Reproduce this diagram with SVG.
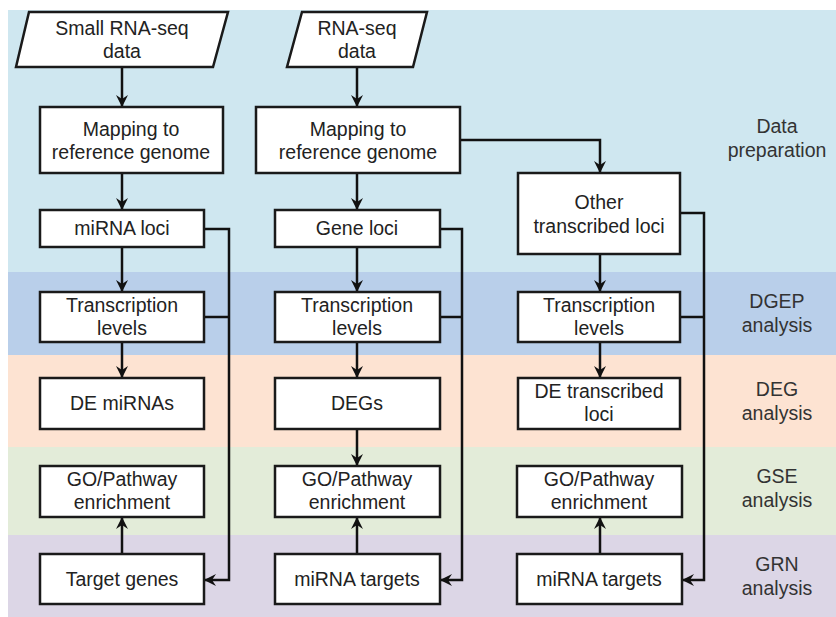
<svg xmlns="http://www.w3.org/2000/svg" width="836" height="617" viewBox="0 0 836 617">
<defs>
<style>
.box{fill:#fff;stroke:#1a1a1a;stroke-width:2.5}
.t{font-family:"Liberation Sans",Arial,sans-serif;font-size:19.5px;fill:#222;text-anchor:middle}
.s{font-family:"Liberation Sans",Arial,sans-serif;font-size:19.5px;fill:#333;text-anchor:middle}
.c{fill:none;stroke:#111;stroke-width:2.5}
</style>
<marker id="ah" markerUnits="userSpaceOnUse" markerWidth="14" markerHeight="14" viewBox="0 0 14 14" refX="13" refY="7" orient="auto">
<path d="M1,1 L13,7 L1,13 L5,7 Z" fill="#111"/>
</marker>
</defs>
<g id="bands">
<rect x="8" y="10" width="828" height="262" fill="#cfe7f0"/>
<rect x="8" y="272" width="828" height="83" fill="#b9cfea"/>
<rect x="8" y="355" width="828" height="92" fill="#fde3d2"/>
<rect x="8" y="447" width="828" height="88" fill="#e3ecd9"/>
<rect x="8" y="535" width="828" height="82" fill="#dcd6e6"/>
</g>
<g id="labels">
<text class="s" x="777" y="133">Data</text>
<text class="s" x="777" y="157">preparation</text>
<text class="s" x="777" y="308">DGEP</text>
<text class="s" x="777" y="332">analysis</text>
<text class="s" x="777" y="396">DEG</text>
<text class="s" x="777" y="420">analysis</text>
<text class="s" x="777" y="483">GSE</text>
<text class="s" x="777" y="507">analysis</text>
<text class="s" x="777" y="571">GRN</text>
<text class="s" x="777" y="595">analysis</text>
</g>
<g id="connectors">
<line class="c" x1="122" y1="67" x2="122" y2="107" marker-end="url(#ah)"/>
<line class="c" x1="122" y1="173" x2="122" y2="210" marker-end="url(#ah)"/>
<line class="c" x1="122" y1="247" x2="122" y2="292" marker-end="url(#ah)"/>
<line class="c" x1="122" y1="342" x2="122" y2="378" marker-end="url(#ah)"/>
<line class="c" x1="122" y1="554" x2="122" y2="517" marker-end="url(#ah)"/>
<polyline class="c" points="204,229 229,229 229,580 204,580" marker-end="url(#ah)"/>
<line class="c" x1="204" y1="317" x2="229" y2="317"/>
<line class="c" x1="357" y1="67" x2="357" y2="107" marker-end="url(#ah)"/>
<line class="c" x1="357" y1="173" x2="357" y2="210" marker-end="url(#ah)"/>
<line class="c" x1="357" y1="247" x2="357" y2="292" marker-end="url(#ah)"/>
<line class="c" x1="357" y1="342" x2="357" y2="378" marker-end="url(#ah)"/>
<line class="c" x1="357" y1="429" x2="357" y2="466" marker-end="url(#ah)"/>
<line class="c" x1="357" y1="554" x2="357" y2="517" marker-end="url(#ah)"/>
<polyline class="c" points="460,140 600,140 600,173" marker-end="url(#ah)"/>
<polyline class="c" points="440,229 462,229 462,580 440,580" marker-end="url(#ah)"/>
<line class="c" x1="440" y1="317" x2="462" y2="317"/>
<line class="c" x1="600" y1="254" x2="600" y2="292" marker-end="url(#ah)"/>
<line class="c" x1="600" y1="342" x2="600" y2="378" marker-end="url(#ah)"/>
<line class="c" x1="600" y1="554" x2="600" y2="517" marker-end="url(#ah)"/>
<polyline class="c" points="680,213 704,213 704,580 682,580" marker-end="url(#ah)"/>
<line class="c" x1="680" y1="317" x2="704" y2="317"/>
</g>
<g id="n-small-rnaseq">
<polygon class="box" points="29,12 228,12 213,67 16,67"/>
<text class="t" x="122" y="35">Small RNA-seq</text>
<text class="t" x="122" y="58">data</text>
</g>
<g id="n-map1">
<rect class="box" x="40" y="107" width="183" height="66"/>
<text class="t" x="131" y="136">Mapping to</text>
<text class="t" x="131" y="159">reference genome</text>
</g>
<g id="n-mirna-loci">
<rect class="box" x="40" y="210" width="164" height="37"/>
<text class="t" x="122" y="235">miRNA loci</text>
</g>
<g id="n-tl1">
<rect class="box" x="40" y="292" width="164" height="50"/>
<text class="t" x="122" y="312">Transcription</text>
<text class="t" x="122" y="335">levels</text>
</g>
<g id="n-de-mirnas">
<rect class="box" x="40" y="378" width="164" height="51"/>
<text class="t" x="122" y="410">DE miRNAs</text>
</g>
<g id="n-go1">
<rect class="box" x="40" y="466" width="164" height="51"/>
<text class="t" x="122" y="486">GO/Pathway</text>
<text class="t" x="122" y="509">enrichment</text>
</g>
<g id="n-target-genes">
<rect class="box" x="40" y="554" width="164" height="50"/>
<text class="t" x="122" y="586">Target genes</text>
</g>
<g id="n-rnaseq">
<polygon class="box" points="302,12 427,12 413,67 287,67"/>
<text class="t" x="357" y="35">RNA-seq</text>
<text class="t" x="357" y="58">data</text>
</g>
<g id="n-map2">
<rect class="box" x="256" y="107" width="204" height="66"/>
<text class="t" x="358" y="136">Mapping to</text>
<text class="t" x="358" y="159">reference genome</text>
</g>
<g id="n-gene-loci">
<rect class="box" x="275" y="210" width="165" height="37"/>
<text class="t" x="357" y="235">Gene loci</text>
</g>
<g id="n-tl2">
<rect class="box" x="275" y="292" width="165" height="50"/>
<text class="t" x="357" y="312">Transcription</text>
<text class="t" x="357" y="335">levels</text>
</g>
<g id="n-degs">
<rect class="box" x="275" y="378" width="165" height="51"/>
<text class="t" x="357" y="410">DEGs</text>
</g>
<g id="n-go2">
<rect class="box" x="275" y="466" width="165" height="51"/>
<text class="t" x="357" y="486">GO/Pathway</text>
<text class="t" x="357" y="509">enrichment</text>
</g>
<g id="n-mirna-targets2">
<rect class="box" x="275" y="554" width="165" height="50"/>
<text class="t" x="357" y="586">miRNA targets</text>
</g>
<g id="n-other-loci">
<rect class="box" x="518" y="173" width="162" height="81"/>
<text class="t" x="599" y="209">Other</text>
<text class="t" x="599" y="233">transcribed loci</text>
</g>
<g id="n-tl3">
<rect class="box" x="518" y="292" width="162" height="50"/>
<text class="t" x="599" y="312">Transcription</text>
<text class="t" x="599" y="335">levels</text>
</g>
<g id="n-de-loci">
<rect class="box" x="518" y="378" width="162" height="51"/>
<text class="t" x="599" y="398">DE transcribed</text>
<text class="t" x="599" y="421">loci</text>
</g>
<g id="n-go3">
<rect class="box" x="517" y="466" width="165" height="51"/>
<text class="t" x="599" y="486">GO/Pathway</text>
<text class="t" x="599" y="509">enrichment</text>
</g>
<g id="n-mirna-targets3">
<rect class="box" x="517" y="554" width="165" height="50"/>
<text class="t" x="599" y="586">miRNA targets</text>
</g>
</svg>
